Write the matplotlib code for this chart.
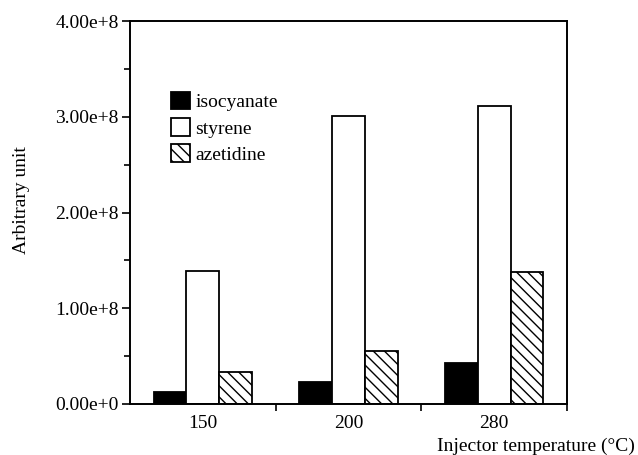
import matplotlib
matplotlib.use("Agg")
import matplotlib.pyplot as plt
import numpy as np
from matplotlib.ticker import FixedLocator

plt.rcParams['font.family'] = ['Liberation Serif', 'DejaVu Serif']
plt.rcParams['hatch.linewidth'] = 1.0

temperatures = ['150', '200', '280']
isocyanate = [1.3e7, 2.3e7, 4.3e7]
styrene = [1.39e8, 3.01e8, 3.11e8]
azetidine = [3.3e7, 5.5e7, 1.38e8]
ytick_vals = [0, 1e8, 2e8, 3e8, 4e8]
ytick_labels = ['0.00e+0', '1.00e+8', '2.00e+8', '3.00e+8', '4.00e+8']

fig = plt.figure(figsize=(6.38, 4.55), dpi=100)
L, R, T, B = 130, 567, 21, 404
ax = fig.add_axes([L / 638, (455 - B) / 455, (R - L) / 638, (B - T) / 455])

x = np.arange(len(temperatures))
w = 0.225
lw = 1.3
ax.bar(x - w, isocyanate, w, color='black', edgecolor='black', linewidth=lw, label='isocyanate')
ax.bar(x, styrene, w, color='white', edgecolor='black', linewidth=lw, label='styrene')
ax.bar(x + w, azetidine, w, color='white', edgecolor='black', linewidth=lw, hatch='\\\\\\', label='azetidine')

ax.set_xlim(-0.5, 2.5)
ax.set_ylim(0, 4e8)
ax.set_xticks(x)
ax.set_xticklabels(temperatures)
ax.tick_params(axis='x', which='major', length=0, pad=8, labelsize=14)
ax.xaxis.set_minor_locator(FixedLocator([0.5, 1.5, 2.5]))
ax.tick_params(axis='x', which='minor', length=5, width=1.2, direction='out')

ax.set_yticks(ytick_vals)
ax.set_yticklabels(ytick_labels)
ax.yaxis.set_minor_locator(FixedLocator([0.5e8, 1.5e8, 2.5e8, 3.5e8]))
ax.tick_params(axis='y', which='major', length=6, width=1.2, direction='out', pad=2, labelsize=14)
ax.tick_params(axis='y', which='minor', length=4, width=1.2, direction='out')

for s in ax.spines.values():
    s.set_linewidth(1.4)

fig.text(22 / 638, (455 - 200) / 455, 'Arbitrary unit', rotation=90, ha='center', va='center', fontsize=14)
fig.text(635 / 638, (455 - 446) / 455, 'Injector temperature (°C)', ha='right', va='center', fontsize=14)

leg = ax.legend(loc='upper left', bbox_to_anchor=((171 - L) / (R - L), (B - 92) / (B - T)),
                frameon=False, fontsize=14, handlelength=1.0, handleheight=1.0,
                handletextpad=0.25, labelspacing=0.35, borderpad=0, borderaxespad=0)

fig.savefig('out.png', dpi=100)
